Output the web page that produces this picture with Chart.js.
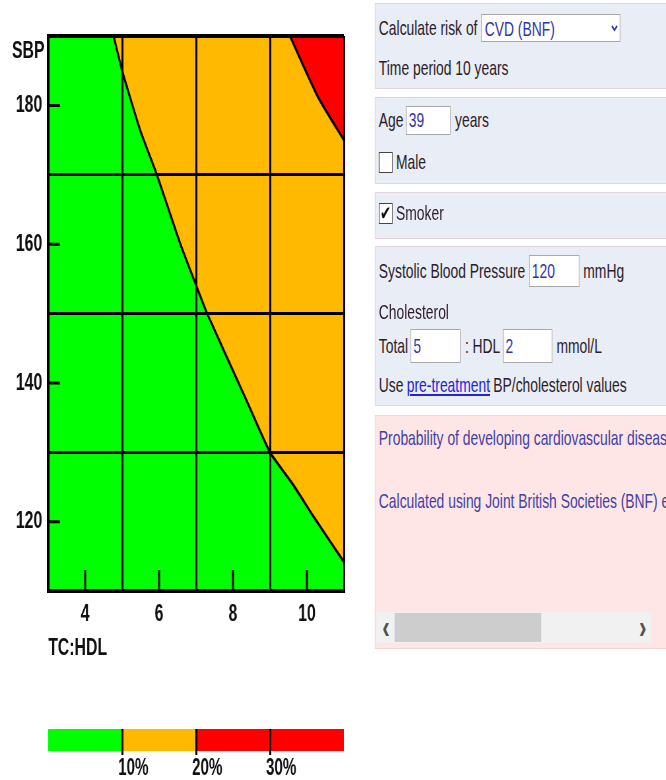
<!DOCTYPE html>
<html>
<head>
<meta charset="utf-8">
<script src="https://cdn.jsdelivr.net/npm/chart.js@4.4.1/dist/chart.umd.min.js"></script>
<style>
html, body { margin: 0; padding: 0; background: #fff; width: 666px; height: 780px; overflow: hidden; }
#page { position: absolute; left: 0; top: 0; width: 1010px; height: 780px; transform: scaleX(0.66); transform-origin: 0 0; font-family: "Liberation Sans", Arial, sans-serif; }
#risk_chart { position: absolute; left: 0; top: 0; }
#key_chart { position: absolute; left: 0; top: 700px; }
.axis_name { position: absolute; font-weight: bold; font-size: 24px; line-height: 28px; color: #111; }
.panel { position: absolute; left: 568px; width: 470px; background: #e9edf5; border: 1px solid #e2d5dd; overflow: hidden; }
.panel.result { background: #ffe6e6; border-color: #f1d6d6; }
.row { position: absolute; left: 5px; height: 34px; display: flex; align-items: center; white-space: nowrap; font-size: 21px; color: #2b1b2b; }
.row input[type=text] { height: 29px; box-sizing: border-box; border: 1px solid #a9a9a9; font: 21px "Liberation Sans", Arial, sans-serif; color: #3434a8; padding: 0 3px; margin: 0 6px; background: #fff; }
.row input[type=checkbox] { -webkit-appearance: none; appearance: none; width: 21px; height: 21px; box-sizing: border-box; margin: 0 5px 0 0; border: 1px solid #444; background: #fff; position: relative; }
.row input[type=checkbox]:checked::after { content: "\2714"; position: absolute; left: 1px; top: -3px; font-size: 20px; line-height: 24px; color: #111; }
.row select { width: 211px; height: 28px; font: 21px "Liberation Sans", Arial, sans-serif; color: #3434a8; background: #fff; border: 1px solid #a9a9a9; margin-left: 6px; }
.row a { color: #2323d8; text-decoration: underline; margin: 0 5px; }
.result .row { color: #4141a3; }
.scroll { position: absolute; left: 1px; top: 196px; width: 417px; height: 31px; background: #f1f1f1; }
.thumb { position: absolute; left: 28px; top: 1px; width: 222px; height: 29px; background: #cdcdcd; }
.arrow { position: absolute; top: 0; font-size: 34px; line-height: 28px; color: #505050; font-weight: bold; }
</style>
</head>
<body>
<div id="page">
  <canvas id="risk_chart" width="545" height="640"></canvas>
  <div class="axis_name" style="left:18px; top:36px;">SBP</div>
  <div class="axis_name" style="left:73px; top:633px;">TC:HDL</div>
  <canvas id="key_chart" width="545" height="80"></canvas>

  <div class="panel" style="top:3px; height:84px;">
    <div class="row" style="top:7px;">Calculate risk of<select><option>CVD (BNF)</option></select></div>
    <div class="row" style="top:47px;">Time period 10 years</div>
  </div>
  <div class="panel" style="top:97px; height:85px;">
    <div class="row" style="top:5px;">Age<input type="text" value="39" style="width:68px; margin-left:4px;">years</div>
    <div class="row" style="top:47px;"><input type="checkbox">Male</div>
  </div>
  <div class="panel" style="top:192px; height:45px;">
    <div class="row" style="top:3px;"><input type="checkbox" checked>Smoker</div>
  </div>
  <div class="panel" style="top:246px; height:158px;">
    <div class="row" style="top:7px;">Systolic Blood Pressure<input type="text" value="120" style="width:76px; height:32px;">mmHg</div>
    <div class="row" style="top:48px;">Cholesterol</div>
    <div class="row" style="top:82px;">Total<input type="text" value="5" style="width:76px; height:34px; margin-left:4px;">: HDL<input type="text" value="2" style="width:75px; height:34px; margin-left:4px;">mmol/L</div>
    <div class="row" style="top:121px;">Use<a>pre-treatment</a>BP/cholesterol values</div>
  </div>
  <div class="panel result" style="top:415px; height:232px;">
    <div class="row" style="top:5px;">Probability of developing cardiovascular disease</div>
    <div class="row" style="top:68px;">Calculated using Joint British Societies (BNF) equation</div>
    <div class="scroll">
      <div class="thumb"></div>
      <div class="arrow" style="left:9px;">&lsaquo;</div>
      <div class="arrow" style="left:398px;">&rsaquo;</div>
    </div>
  </div>
</div>

<script>
// 10% and 20% risk boundaries
var tcHdl10 = [4.77, 5.0, 5.49, 5.94, 6.57, 7.0, 7.3, 8.38, 9.0, 9.63, 10.17, 11];
var sbp10 = [190, 185, 176.4, 170, 160.1, 154.1, 150, 137.3, 130, 125.3, 120.8, 114.2];
var tcHdl20 = [9.54, 10.3, 11];
var sbp20 = [190, 181.2, 175];

var xTickLabels = [4, 6, 8, 10];
var yTickLabels = [120, 140, 160, 180];
var xGridLines = [3, 5, 7, 9, 11];
var yGridLines = [110, 130, 150, 170, 190];

var keyBands = [10, 10, 20];
var keyTicks = [10, 20, 30];

var GREEN = '#00ff00', ORANGE = '#ffba00', RED = '#ff0000';
var labelFont = { family: '"Liberation Sans", Arial, sans-serif', size: 24, weight: 'bold' };

function points(xs, ys) {
  return xs.map(function(x, i) { return { x: x, y: ys[i] }; });
}

var riskPlugin = {
  id: 'riskPlugin',
  beforeDraw: function(chart) {
    var a = chart.chartArea, ctx = chart.ctx;
    ctx.save();
    ctx.fillStyle = GREEN;
    ctx.fillRect(a.left, a.top, a.right - a.left, a.bottom - a.top);
    ctx.restore();
  },
  afterDraw: function(chart) {
    // short inward tick marks
    var a = chart.chartArea, ctx = chart.ctx;
    var x = chart.scales.x, y = chart.scales.y;
    ctx.save();
    ctx.strokeStyle = '#000';
    ctx.lineWidth = 3;
    ctx.beginPath();
    xTickLabels.forEach(function(v) {
      var px = x.getPixelForValue(v);
      ctx.moveTo(px, a.bottom);
      ctx.lineTo(px, a.bottom - 21);
    });
    yTickLabels.forEach(function(v) {
      var py = y.getPixelForValue(v);
      ctx.moveTo(a.left, py);
      ctx.lineTo(a.left + 18, py);
    });
    ctx.stroke();
    ctx.restore();
  }
};

function gridColour(list) {
  return function(ctx) { return list.indexOf(ctx.tick.value) >= 0 ? '#000' : 'rgba(0,0,0,0)'; };
}

new Chart(document.getElementById('risk_chart'), {
  type: 'line',
  data: {
    datasets: [
      {
        data: points(tcHdl20, sbp20),
        fill: 'end',
        backgroundColor: RED,
        borderColor: '#000',
        borderWidth: 3,
        pointRadius: 0,
        tension: 0.2
      },
      {
        data: points(tcHdl10, sbp10),
        fill: 'end',
        backgroundColor: ORANGE,
        borderColor: '#000',
        borderWidth: 3,
        pointRadius: 0,
        tension: 0.15
      }
    ]
  },
  options: {
    responsive: false,
    animation: false,
    events: [],
    layout: { padding: { top: 36, right: 24 } },
    plugins: { legend: { display: false }, tooltip: { enabled: false } },
    scales: {
      x: {
        type: 'linear',
        min: 3,
        max: 11,
        afterFit: function(s) { s.height = 49; },
        ticks: {
          stepSize: 1,
          autoSkip: false,
          maxRotation: 0,
          padding: 9,
          color: '#111',
          font: labelFont,
          callback: function(v) { return xTickLabels.indexOf(v) >= 0 ? v : ''; }
        },
        grid: { z: 1, drawTicks: false, color: gridColour(xGridLines), lineWidth: 3 },
        border: { z: 1, display: true, color: '#000', width: 4 }
      },
      y: {
        min: 110,
        max: 190,
        afterFit: function(s) { s.width = 73; },
        ticks: {
          stepSize: 10,
          autoSkip: false,
          padding: 9,
          color: '#111',
          font: labelFont,
          callback: function(v) { return yTickLabels.indexOf(v) >= 0 ? v : ''; }
        },
        grid: { z: 1, drawTicks: false, color: gridColour(yGridLines), lineWidth: function(ctx) { return ctx.tick.value == 190 ? 4 : 3; } },
        border: { z: 1, display: true, color: '#000', width: 4 }
      }
    }
  },
  plugins: [riskPlugin]
});

// colour key under the chart
var keyColours = [GREEN, ORANGE, RED];
new Chart(document.getElementById('key_chart'), {
  type: 'bar',
  data: {
    labels: [''],
    datasets: keyBands.map(function(v, i) {
      return { data: [v], backgroundColor: keyColours[i], borderWidth: 0, barPercentage: 1, categoryPercentage: 1 };
    })
  },
  options: {
    indexAxis: 'y',
    responsive: false,
    animation: false,
    events: [],
    layout: { padding: { left: 73, right: 24, top: 29 } },
    plugins: { legend: { display: false }, tooltip: { enabled: false } },
    scales: {
      y: { display: false, stacked: true },
      x: {
        stacked: true,
        min: 0,
        max: 40,
        afterBuildTicks: function(s) { s.ticks = keyTicks.map(function(v) { return { value: v }; }); },
        afterFit: function(s) { s.height = 29; },
        grid: { z: 1, color: '#000', lineWidth: 3, tickLength: 4 },
        border: { display: false },
        ticks: {
          align: 'start',
          labelOffset: -6,
          padding: 0,
          color: '#111',
          font: { family: labelFont.family, size: 23, weight: 'bold' },
          callback: function(v) { return v + '%'; }
        }
      }
    }
  }
});
</script>
</body>
</html>
